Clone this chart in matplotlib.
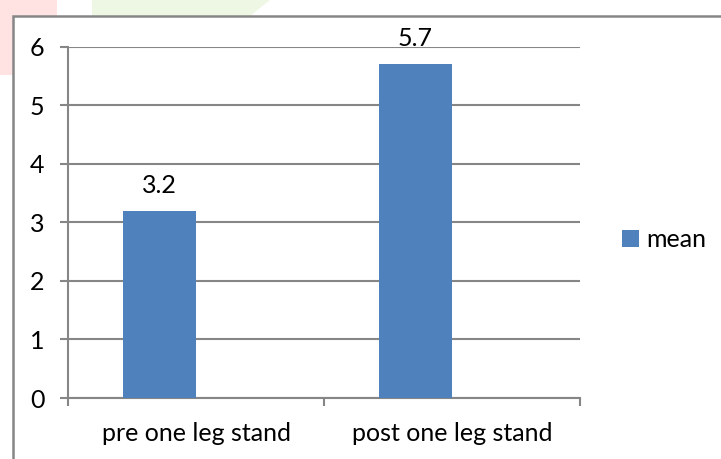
import matplotlib
matplotlib.use("Agg")
import matplotlib.pyplot as plt
from matplotlib.patches import Rectangle, Polygon
import numpy as np

categories = ["pre one leg stand", "post one leg stand"]
mean_values = [3.2, 5.7]
value_labels = ["3.2", "5.7"]
y_ticks = [0, 1, 2, 3, 4, 5, 6]
series_name = "mean"

BAR_COLOR = "#4f81bd"
GRID_COLOR = "#868686"
FONT = "Lato"
FS = 18

plt.rcParams["font.family"] = [FONT, "DejaVu Sans"]

W, H = 721, 459
fig = plt.figure(figsize=(W / 100, H / 100), dpi=100)
fig.patch.set_facecolor("white")

# faint watermark fragments outside chart area
fig.patches.append(Rectangle((0, 1 - 75 / H), 57 / W, 75 / H, transform=fig.transFigure,
                             facecolor="#ffe3e3", edgecolor="none", zorder=0))
fig.patches.append(Polygon([(92 / W, 1), (270 / W, 1), (250 / W, 1 - 16 / H), (92 / W, 1 - 16 / H)],
                           closed=True, transform=fig.transFigure,
                           facecolor="#eef7e4", edgecolor="none", zorder=0))
# chart frame (white fill, gray border)
fig.patches.append(Rectangle((13 / W, -0.05), 1.0, 1 - 16 / H + 0.05, transform=fig.transFigure,
                             facecolor="white", edgecolor="#868686", linewidth=1.8, zorder=1))

ax = fig.add_axes([68 / W, 1 - 398 / H, (580 - 68) / W, (398 - 46.7) / H])
ax.set_zorder(2)
ax.patch.set_alpha(0)

x = np.arange(len(categories))
bw = 0.285
bars = ax.bar(x - bw / 2, mean_values, width=bw, color=BAR_COLOR, label=series_name, zorder=3)

for b, lab in zip(bars, value_labels):
    ax.annotate(lab, (b.get_x() + b.get_width() / 2, b.get_height()),
                xytext=(0, 13), textcoords="offset points", ha="center", va="baseline",
                fontsize=FS, color="black")

ax.set_xlim(-0.5, len(categories) - 0.5)
ax.set_ylim(0, 6)
ax.set_yticks(y_ticks)
ax.set_yticklabels([str(t) for t in y_ticks], fontsize=FS)
ax.yaxis.grid(True, color=GRID_COLOR, linewidth=1.5, zorder=0)
ax.set_axisbelow(True)

ax.set_xticks(np.arange(len(categories) + 1) - 0.5)
ax.set_xticklabels([])
ax.set_xticks(x, minor=True)
ax.set_xticklabels(categories, minor=True, fontsize=FS)
ax.tick_params(axis="x", which="minor", length=0, pad=17)
ax.tick_params(axis="x", which="major", length=6, width=1.5, color=GRID_COLOR, direction="out")
ax.tick_params(axis="y", length=6, width=1.5, color=GRID_COLOR, direction="out", pad=11)

for s in ["top", "right"]:
    ax.spines[s].set_visible(False)
for s in ["left", "bottom"]:
    ax.spines[s].set_color(GRID_COLOR)
    ax.spines[s].set_linewidth(1.5)

leg = ax.legend(loc="center left", bbox_to_anchor=(1.083, 0.45), frameon=False,
                fontsize=FS, handlelength=0.65, handleheight=0.65, handletextpad=0.3,
                borderaxespad=0, borderpad=0)

fig.savefig("out.png", dpi=100)
